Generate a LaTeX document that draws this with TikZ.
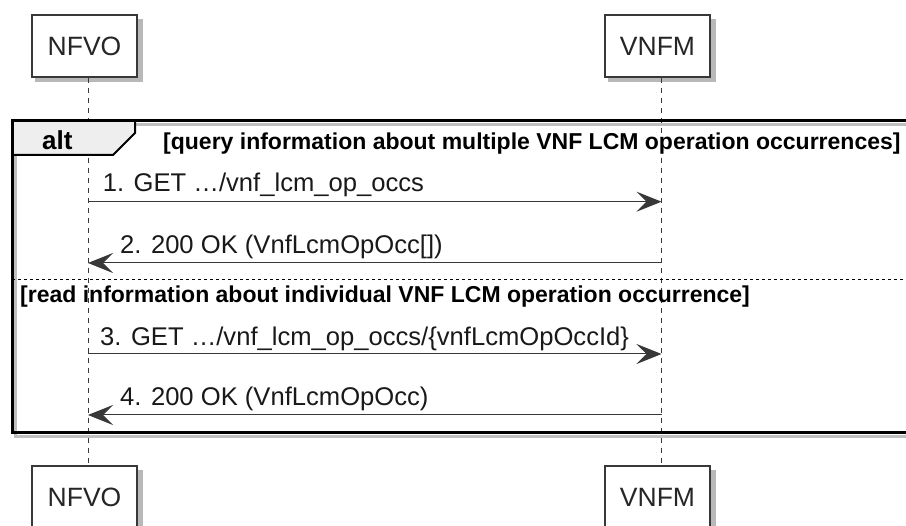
\documentclass[tikz,border=0pt]{standalone}
\usepackage{fontspec}
\setmainfont{Liberation Sans}
\usetikzlibrary{arrows.meta,backgrounds}
\definecolor{ln}{HTML}{383838}
\definecolor{tabfill}{HTML}{EEEEEE}
\begin{document}
\begin{tikzpicture}[x=1pt,y=-1pt,
  part/.style={draw=ln, line width=1.5pt, fill=white, minimum width=105pt, minimum height=62pt, inner sep=0pt,
    font=\fontsize{26.5}{30}\selectfont, text=black!85},
  shadowbox/.style={fill=black!28},
  life/.style={draw=ln, line width=1pt, dash pattern=on 5pt off 5pt},
  msg/.style={draw=ln, line width=1pt, -{Stealth[length=25pt,width=20pt,inset=10pt]}},
  msgtxt/.style={anchor=base west, inner sep=0pt, font=\fontsize{25.6}{30}\selectfont, text=black!90},
  cond/.style={anchor=base west, inner sep=0pt, font=\bfseries\fontsize{23}{28}\selectfont},
]
\useasboundingbox (0,0) rectangle (906,526);
\clip (0,0) rectangle (906,526);

% participants
\node[part] (nTop) at (84.5,46) {NFVO};
\node[part] (vTop) at (657.5,46) {VNFM};
\node[part] (nBot) at (84.5,497) {NFVO};
\node[part] (vBot) at (657.5,497) {VNFM};

\begin{scope}[on background layer]
\fill[white] (0,0) rectangle (906,526);
\foreach \b in {nTop,vTop,nBot,vBot}{
  \fill[shadowbox] ([shift={(4pt,-4pt)}]\b.south west) rectangle ([shift={(5pt,-5pt)}]\b.north east);
}
\end{scope}

% lifelines
\coordinate (nA) at ([xshift=3.5pt]nTop.south);
\coordinate (nB) at ([xshift=3.5pt]nBot.north);
\coordinate (vA) at ([xshift=4pt]vTop.south);
\coordinate (vB) at ([xshift=4pt]vBot.north);
\draw[life] (nA) -- (nB);
\draw[life] (vA) -- (vB);

% alt frame
\draw[line width=3pt, black!25] (15,124.5) rectangle (919,437);
\draw[line width=2pt, fill=tabfill, line join=miter] (12,120.5) -- (135,120.5) -- (135,133) -- (113,155) -- (12,155);
\draw[line width=3pt, black] (12,120.5) rectangle (915,433);
\node[font=\bfseries\fontsize{26}{30}\selectfont, anchor=base west, inner sep=0pt] (alt) at (42,150) {alt};
\node[cond] (c1) at (163,150) {[query information about multiple VNF LCM operation occurrences]};
\draw[line width=1pt, black, dash pattern=on 3pt off 3pt] (12,280) -- (915,280);
\node[cond] (c2) at (20,303) {[read information about individual VNF LCM operation occurrence]};

% messages
\coordinate (n1) at (nA |- 0,201.7);
\coordinate (v1) at (vA |- 0,201.7);
\coordinate (n2) at (nA |- 0,263);
\coordinate (v2) at (vA |- 0,263);
\coordinate (n3) at (nA |- 0,354);
\coordinate (v3) at (vA |- 0,354);
\coordinate (n4) at (nA |- 0,415);
\coordinate (v4) at (vA |- 0,415);

\draw[msg] (n1) -- (v1);
\node[msgtxt] (m1) at (102.7,191.7) {1. GET …/vnf\_lcm\_op\_occs};
\draw[msg] (v2) -- (n2);
\node[msgtxt] (m2) at (120,254) {2. 200 OK (VnfLcmOpOcc[])};
\draw[msg] (n3) -- (v3);
\node[msgtxt] (m3) at (100,345.7) {3. GET …/vnf\_lcm\_op\_occs/\{vnfLcmOpOccId\}};
\draw[msg] (v4) -- (n4);
\node[msgtxt] (m4) at (120,405.7) {4. 200 OK (VnfLcmOpOcc)};
\end{tikzpicture}
\end{document}
